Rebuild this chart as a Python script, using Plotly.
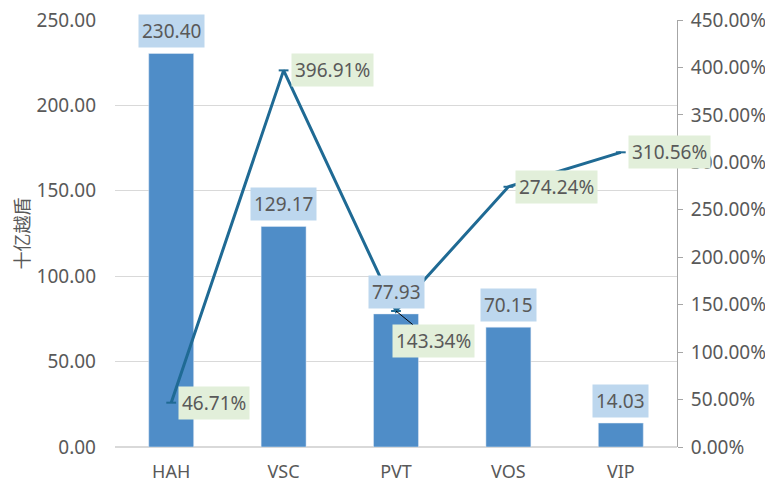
import plotly.graph_objects as go

categories = ["HAH", "VSC", "PVT", "VOS", "VIP"]
bar_values = [230.40, 129.17, 77.93, 70.15, 14.03]
line_values = [46.71, 396.91, 143.34, 274.24, 310.56]  # percent
left_ticks = [0, 50, 100, 150, 200, 250]
right_ticks = [0, 50, 100, 150, 200, 250, 300, 350, 400, 450]

FONT = "Noto Sans"
FS = 19
TXT = "#595959"
BAR = "#4f8dc8"
LINE = "#1f6a94"

fig = go.Figure()
fig.add_trace(go.Bar(x=categories, y=bar_values, marker_color=BAR, yaxis="y",
                     hoverinfo="skip", showlegend=False))
fig.add_trace(go.Scatter(x=categories, y=line_values, yaxis="y2", mode="lines+markers",
                         line=dict(color=LINE, width=3),
                         marker=dict(symbol="line-ew", size=7,
                                     line=dict(color=LINE, width=2)),
                         hoverinfo="skip", showlegend=False))

annotations = []
for c, v in zip(categories, bar_values):
    annotations.append(dict(x=c, y=v, xref="x", yref="y", text=f"{v:.2f}",
                            showarrow=False, yanchor="bottom", yshift=5,
                            bgcolor="#bdd7ee", borderpad=3,
                            font=dict(family=FONT, size=FS, color=TXT)))
for c, v in zip(categories, line_values):
    if c == "PVT":
        annotations.append(dict(x=c, y=v, xref="x", yref="y2", text=f"{v:.2f}%",
                                showarrow=True, arrowhead=0, arrowwidth=1,
                                arrowcolor="#000000", ax=37, ay=30,
                                bgcolor="#e2efda", borderpad=3,
                                font=dict(family=FONT, size=FS, color=TXT)))
    else:
        annotations.append(dict(x=c, y=v, xref="x", yref="y2", text=f"{v:.2f}%",
                                showarrow=False, xanchor="left", yanchor="middle",
                                xshift=7, bgcolor="#e2efda", borderpad=3,
                                font=dict(family=FONT, size=FS, color=TXT)))

fig.update_layout(
    width=765, height=479,
    margin=dict(l=107, r=96, t=12, b=40, autoexpand=False),
    paper_bgcolor="white", plot_bgcolor="white",
    bargap=0.6,
    font=dict(family=FONT, size=FS, color=TXT),
    xaxis=dict(range=[-0.5, len(categories) - 0.5], autorange=False,
               showgrid=False, showline=False, ticks="", automargin=False,
               ticklabelstandoff=12,
               tickfont=dict(family=FONT, size=18, color=TXT)),
    yaxis=dict(range=[0, 250], tickvals=left_ticks, automargin=False,
               ticktext=[f"{t:.2f}" for t in left_ticks],
               ticklabeloverflow="allow",
               showgrid=True, gridcolor="#d9d9d9", gridwidth=1,
               zeroline=True, zerolinecolor="#d9d9d9", showline=False, ticks="",
               ticklabelstandoff=18,
               title=dict(text="十亿越盾", font=dict(family="Noto Sans CJK SC", size=18, color=TXT),
                          standoff=21),
               tickfont=dict(family=FONT, size=FS, color=TXT)),
    yaxis2=dict(range=[0, 450], tickvals=right_ticks, automargin=False,
                ticktext=[f"{t:.2f}%" for t in right_ticks],
                ticklabeloverflow="allow",
                overlaying="y", side="right", showgrid=False, zeroline=False,
                showline=True, linecolor="#a6a6a6", linewidth=1,
                ticks="outside", ticklen=5, tickcolor="#a6a6a6",
                ticklabelstandoff=4,
                tickfont=dict(family=FONT, size=FS, color=TXT)),
    annotations=annotations,
)

fig.write_html("out.html")
